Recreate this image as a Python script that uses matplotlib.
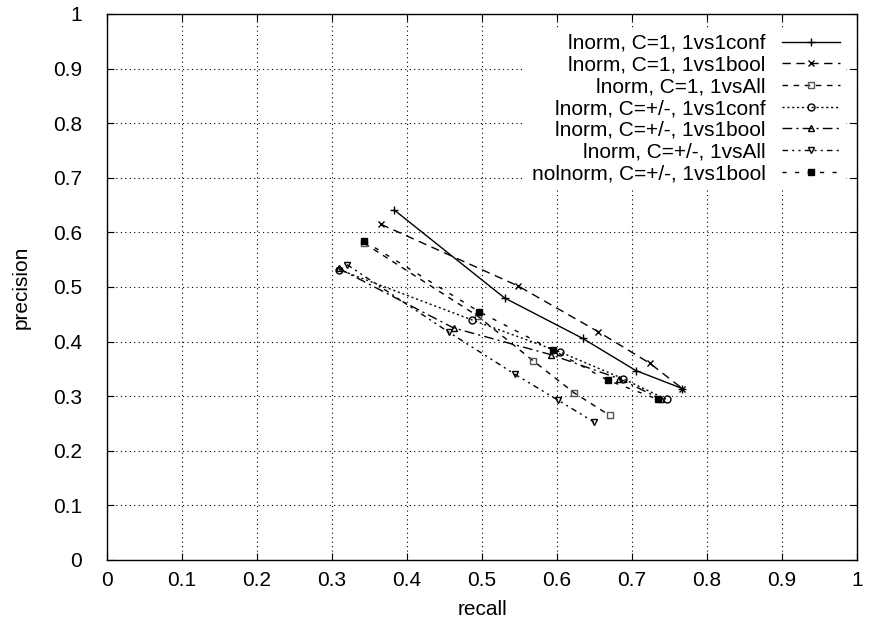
import numpy as np
import matplotlib
matplotlib.use("Agg")
import matplotlib.pyplot as plt

plt.rcParams['font.family'] = ['Liberation Sans', 'DejaVu Sans']

# recall / precision for each configuration
labels = [
    "lnorm, C=1, 1vs1conf",
    "lnorm, C=1, 1vs1bool",
    "lnorm, C=1, 1vsAll",
    "lnorm, C=+/-, 1vs1conf",
    "lnorm, C=+/-, 1vs1bool",
    "lnorm, C=+/-, 1vsAll",
    "nolnorm, C=+/-, 1vs1bool",
]

recall_1 = [0.383, 0.530, 0.634, 0.705, 0.767]
precision_1 = [0.641, 0.480, 0.406, 0.347, 0.314]

recall_2 = [0.365, 0.548, 0.655, 0.724, 0.767]
precision_2 = [0.615, 0.502, 0.418, 0.360, 0.314]

recall_3 = [0.343, 0.494, 0.568, 0.623, 0.670]
precision_3 = [0.580, 0.447, 0.365, 0.306, 0.265]

recall_4 = [0.309, 0.486, 0.604, 0.688, 0.746]
precision_4 = [0.532, 0.440, 0.381, 0.332, 0.294]

recall_5 = [0.309, 0.462, 0.592, 0.683, 0.738]
precision_5 = [0.534, 0.425, 0.376, 0.332, 0.295]

recall_6 = [0.320, 0.456, 0.544, 0.601, 0.649]
precision_6 = [0.541, 0.417, 0.340, 0.293, 0.253]

recall_7 = [0.343, 0.496, 0.595, 0.668, 0.735]
precision_7 = [0.584, 0.455, 0.384, 0.329, 0.294]

recalls = [recall_1, recall_2, recall_3, recall_4, recall_5, recall_6, recall_7]
precisions = [precision_1, precision_2, precision_3, precision_4, precision_5, precision_6, precision_7]

styles = [
    dict(ls='-', marker='+', ms=6, mfc='none'),
    dict(ls=(0, (6, 4)), marker='x', ms=5, mfc='none'),
    dict(ls=(0, (4, 4)), marker='s', ms=5, mfc='none', mec='#555555'),
    dict(ls=(0, (1.5, 2)), marker='o', ms=5, mfc='none'),
    dict(ls=(0, (7, 3, 1.5, 3)), marker='^', ms=5, mfc='none'),
    dict(ls=(0, (4, 3, 1.5, 3, 1.5, 3)), marker='v', ms=5, mfc='none'),
    dict(ls=(0, (3, 6)), marker='s', ms=5, mfc='black'),
]

fig = plt.figure(figsize=(8.71, 6.22), dpi=100)
ax = fig.add_axes([0.1228, 0.0997, 0.8612, 0.8778])

for r, p, lab, st in zip(recalls, precisions, labels, styles):
    ax.plot(r, p, color='black', lw=1.0, label=lab, **st)

fs = 15
ax.set_xlim(0, 1)
ax.set_ylim(0, 1)
ax.set_xticks(np.arange(0, 1.01, 0.1))
ax.set_yticks(np.arange(0, 1.01, 0.1))
ax.set_xticklabels(['0', '0.1', '0.2', '0.3', '0.4', '0.5', '0.6', '0.7', '0.8', '0.9', '1'])
ax.set_yticklabels(['0', '0.1', '0.2', '0.3', '0.4', '0.5', '0.6', '0.7', '0.8', '0.9', '1'])
ax.tick_params(direction='in', top=True, right=True, labelsize=fs, length=5)
ax.tick_params(axis='y', pad=18)
ax.tick_params(axis='x', pad=8)
ax.grid(True, color='black', ls=(0, (1, 3)), lw=0.8)
for s in ax.spines.values():
    s.set_linewidth(1.0)

ax.set_xlabel('recall', fontsize=fs, labelpad=7)
ax.set_ylabel('precision', fontsize=fs, labelpad=16)

leg = ax.legend(loc='upper right', frameon=True, fontsize=fs, markerfirst=False,
                handlelength=2.75, handletextpad=0.8, labelspacing=0.13,
                borderaxespad=0.0, borderpad=0.3, bbox_to_anchor=(0.985, 0.975))
leg.get_frame().set_edgecolor('none')
leg.get_frame().set_facecolor('white')
leg.get_frame().set_alpha(1.0)
for t in leg.get_texts():
    t.set_ha('right')
leg._legend_box.align = 'right'

fig.savefig('out.png', dpi=100)
